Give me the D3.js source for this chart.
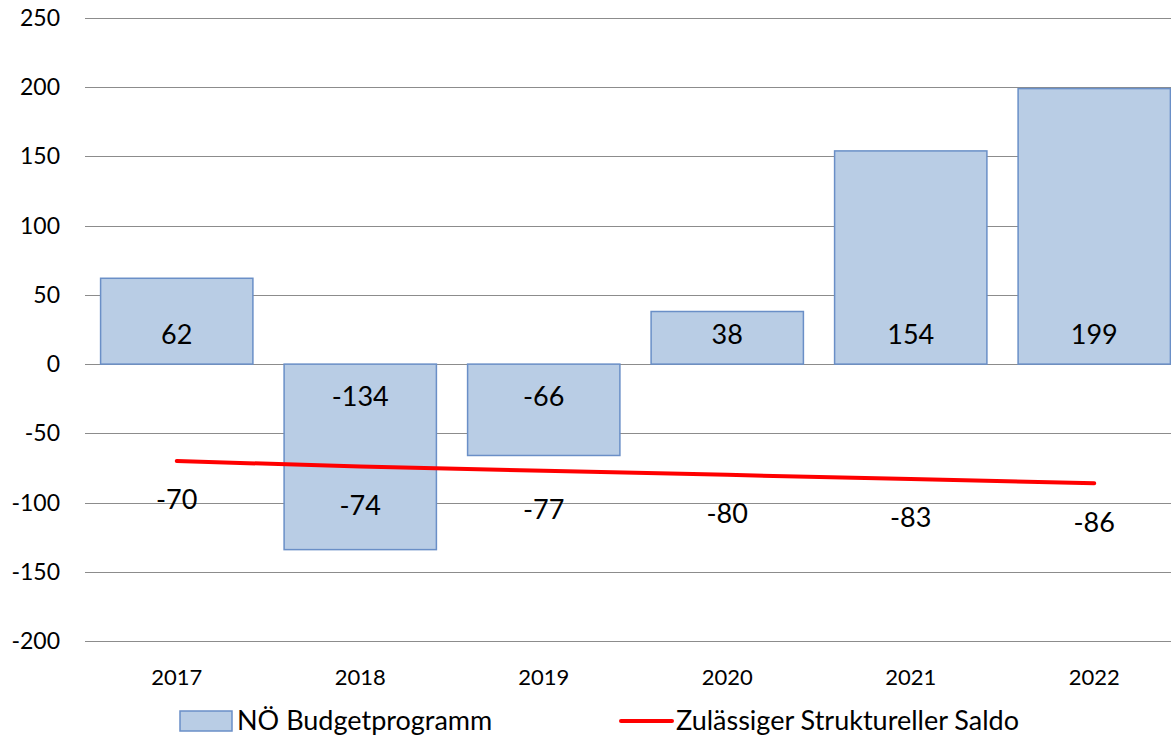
<!DOCTYPE html>
<html>
<head>
<meta charset="utf-8">
<script src="https://cdn.jsdelivr.net/npm/d3@7"></script>
<style>
  body { margin: 0; background: #fff; }
  svg { display: block; font-family: Lato, "Open Sans", sans-serif; }
</style>
</head>
<body>
<div id="chart"></div>
<script>
// chart data
const years = ['2017', '2018', '2019', '2020', '2021', '2022'];
const budget = [62, -134, -66, 38, 154, 199];
const saldo = [-70, -74, -77, -80, -83, -86];
const yTicks = [-200, -150, -100, -50, 0, 50, 100, 150, 200, 250];
const seriesNames = ['NÖ Budgetprogramm', 'Zulässiger Struktureller Saldo'];

const W = 1171, H = 735;

// x band runs a bit past the right edge, like the original crop
const x = d3.scaleBand()
  .domain(years)
  .range([85, 1186])
  .paddingInner(0.17)
  .paddingOuter(0.085);

const y = d3.scaleLinear()
  .domain([-200, 250])
  .range([641, 18]);

const svg = d3.select('#chart')
  .append('svg')
  .attr('width', W)
  .attr('height', H);

// gridlines
svg.append('g')
  .selectAll('line')
  .data(yTicks)
  .enter()
  .append('line')
  .attr('x1', 85)
  .attr('x2', W)
  .attr('y1', d => Math.round(y(d)) + 0.5)
  .attr('y2', d => Math.round(y(d)) + 0.5)
  .attr('stroke', '#8c8c8c')
  .attr('stroke-width', 1.2);

// y axis labels
svg.append('g')
  .selectAll('text')
  .data(yTicks)
  .enter()
  .append('text')
  .attr('x', 60)
  .attr('y', d => y(d))
  .attr('dy', '0.35em')
  .attr('text-anchor', 'end')
  .style('font-size', '23px')
  .text(d => d);

// x axis labels
svg.append('g')
  .selectAll('text')
  .data(years)
  .enter()
  .append('text')
  .attr('x', d => x(d) + x.bandwidth() / 2)
  .attr('y', 677)
  .attr('dy', '0.35em')
  .attr('text-anchor', 'middle')
  .style('font-size', '22px')
  .text(d => d);

// bars
svg.append('g')
  .selectAll('rect')
  .data(budget)
  .enter()
  .append('rect')
  .attr('x', (d, i) => x(years[i]))
  .attr('width', x.bandwidth())
  .attr('y', d => y(Math.max(0, d)))
  .attr('height', d => Math.abs(y(d) - y(0)))
  .attr('fill', '#b9cde5')
  .attr('stroke', '#6a8fc7')
  .attr('stroke-width', 1.5);

// bar value labels (inside base)
svg.append('g')
  .selectAll('text')
  .data(budget)
  .enter()
  .append('text')
  .attr('x', (d, i) => x(years[i]) + x.bandwidth() / 2)
  .attr('y', d => d >= 0 ? y(0) - 30 : y(0) + 32)
  .attr('dy', '0.35em')
  .attr('text-anchor', 'middle')
  .style('font-size', '27px')
  .text(d => d);

// saldo line
const line = d3.line()
  .x((d, i) => x(years[i]) + x.bandwidth() / 2)
  .y(d => y(d));

svg.append('path')
  .datum(saldo)
  .attr('d', line)
  .attr('fill', 'none')
  .attr('stroke', '#ff0000')
  .attr('stroke-width', 4)
  .attr('stroke-linecap', 'round');

svg.append('g')
  .selectAll('text')
  .data(saldo)
  .enter()
  .append('text')
  .attr('x', (d, i) => x(years[i]) + x.bandwidth() / 2)
  .attr('y', d => y(d) + 39)
  .attr('dy', '0.35em')
  .attr('text-anchor', 'middle')
  .style('font-size', '27px')
  .text(d => d);

// legend
const legend = svg.append('g');
legend.append('rect')
  .attr('x', 180).attr('y', 711)
  .attr('width', 52).attr('height', 20)
  .attr('fill', '#b9cde5')
  .attr('stroke', '#6a8fc7')
  .attr('stroke-width', 1.5);
legend.append('text')
  .attr('x', 237).attr('y', 721)
  .attr('dy', '0.35em')
  .style('font-size', '27px')
  .text(seriesNames[0]);
legend.append('line')
  .attr('x1', 621).attr('x2', 672)
  .attr('y1', 721).attr('y2', 721)
  .attr('stroke', '#ff0000')
  .attr('stroke-width', 4)
  .attr('stroke-linecap', 'round');
legend.append('text')
  .attr('x', 676).attr('y', 721)
  .attr('dy', '0.35em')
  .style('font-size', '27px')
  .text(seriesNames[1]);
</script>
</body>
</html>
